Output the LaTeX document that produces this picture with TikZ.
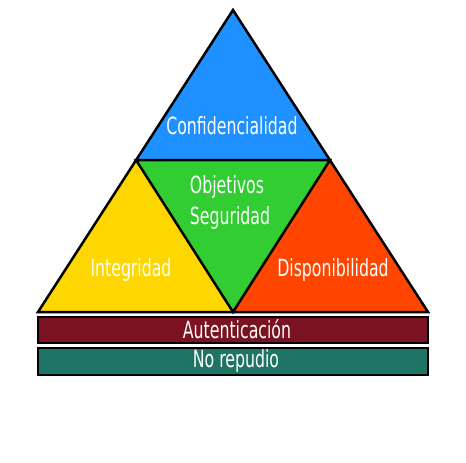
\documentclass[tikz,border=0pt]{standalone}
\usepackage{fontspec}
\setmainfont{DejaVu Sans Condensed}
\definecolor{cblue}{HTML}{1E90FF}
\definecolor{cgreen}{HTML}{32CD32}
\definecolor{cgold}{HTML}{FFD700}
\definecolor{corange}{HTML}{FF4500}
\definecolor{cwine}{HTML}{7A1222}
\definecolor{cteal}{HTML}{1F7565}
\tikzset{
  tri/.style={draw=black, line width=2.5pt, line join=miter},
  lbl/.style={text=white, font=\fontsize{17.5}{20}\selectfont, inner sep=0pt, yscale=1.35},
  bar/.style={draw=black, line width=2.5pt}
}
\begin{document}
\begin{tikzpicture}[x=1pt, y=-1pt]
\useasboundingbox (0,0) rectangle (466,463);
\coordinate (A) at (233,10);
\coordinate (L) at (136,160);
\coordinate (R) at (330,160);
\coordinate (BL) at (38,312);
\coordinate (BM) at (233,312);
\coordinate (BR) at (428,312);
\fill[cblue] (A) -- (L) -- (R) -- cycle;
\fill[cgreen] (L) -- (R) -- (BM) -- cycle;
\fill[cgold] (L) -- (BL) -- (BM) -- cycle;
\fill[corange] (R) -- (BM) -- (BR) -- cycle;
\draw[tri] (A) -- (BL) -- (BR) -- cycle;
\draw[tri] (L) -- (R) -- (BM) -- cycle;
\node[bar, fill=cwine, minimum width=390pt, minimum height=26pt, inner sep=0pt] (auth) at (233,330) {};
\node[bar, fill=cteal, minimum width=390pt, minimum height=27pt, inner sep=0pt] (norep) at (233,361.5) {};
\node[lbl] (conf) at (232,126) {Confidencialidad};
\node[lbl] (obj) at (227,187) {Objetivos};
\node[lbl] (seg) at (230,218) {Seguridad};
\node[lbl] (integ) at (131,270) {Integridad};
\node[lbl] (disp) at (333,270) {Disponibilidad};
\node[lbl] (authl) at (237,329) {Autenticación};
\node[lbl] (norepl) at (236,361) {No repudio};
\end{tikzpicture}
\end{document}
